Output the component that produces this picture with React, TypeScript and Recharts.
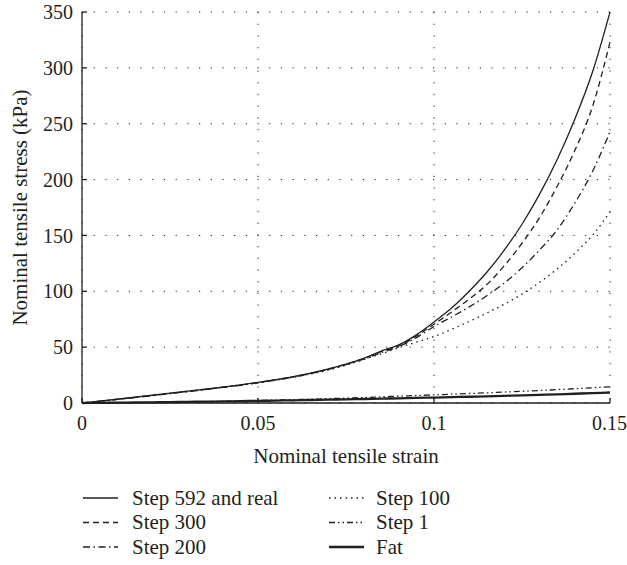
import React from 'react';
import { LineChart, Line, XAxis, YAxis, CartesianGrid } from 'recharts';

const strain = [0, 0.005, 0.01, 0.015, 0.02, 0.025, 0.03, 0.035, 0.04, 0.045, 0.05, 0.055, 0.06, 0.065, 0.07, 0.075, 0.08, 0.085, 0.09, 0.095, 0.1, 0.105, 0.11, 0.115, 0.12, 0.125, 0.13, 0.135, 0.14, 0.145, 0.15];

const step592 = [0, 1.7, 3.4, 5.2, 7.0, 8.8, 10.6, 12.4, 14.3, 16.3, 18.5, 20.9, 23.6, 26.8, 30.5, 34.8, 40, 46.5, 52, 61, 72.5, 85, 100, 117, 137, 160, 187, 218, 254, 296, 350];
const step300 = [0, 1.6, 3.3, 5.0, 6.8, 8.6, 10.4, 12.2, 14.1, 16.1, 18.3, 20.7, 23.4, 26.6, 30.3, 34.6, 39.8, 46, 51, 60, 70.5, 81.5, 93, 106, 123, 143, 166, 194, 226, 265, 323];
const step200 = [0, 1.6, 3.2, 4.9, 6.6, 8.4, 10.2, 12.0, 13.9, 15.9, 18.1, 20.5, 23.2, 26.4, 30.0, 34.3, 39.3, 45, 50.5, 58.5, 68.5, 77, 86, 96, 107.5, 121, 137, 155, 179, 207, 243];
const step100 = [0, 1.6, 3.2, 4.9, 6.6, 8.4, 10.2, 12.0, 13.9, 15.9, 18.0, 20.4, 23.0, 26.0, 29.5, 33.8, 39, 44, 49.5, 54.5, 59.5, 66, 73, 80.5, 88.5, 97.5, 108, 120, 134, 150, 171];
const step1 = [0, 0.1, 0.2, 0.35, 0.5, 0.7, 0.95, 1.2, 1.5, 1.8, 2.2, 2.6, 3.0, 3.4, 3.9, 4.4, 4.9, 5.5, 6.1, 6.7, 7.3, 7.9, 8.5, 9.1, 9.8, 10.5, 11.2, 12, 12.8, 13.6, 14.5];
const fat = [0, 0.15, 0.3, 0.45, 0.6, 0.8, 1.0, 1.2, 1.4, 1.65, 1.9, 2.15, 2.4, 2.7, 3.0, 3.3, 3.6, 3.9, 4.2, 4.55, 4.9, 5.25, 5.6, 6.0, 6.4, 6.85, 7.3, 7.8, 8.3, 8.85, 9.4];

const xTicks = [0, 0.05, 0.1, 0.15];
const yTicks = [0, 50, 100, 150, 200, 250, 300, 350];

const seriesNames = ['Step 592 and real', 'Step 300', 'Step 200', 'Step 100', 'Step 1', 'Fat'];

const data = strain.map((x, i) => ({
  x,
  s592: step592[i],
  s300: step300[i],
  s200: step200[i],
  s100: step100[i],
  s1: step1[i],
  fat: fat[i],
}));

const INK = '#231f20';
const FONT = "'Liberation Serif', 'DejaVu Serif', serif";

const styles = [
  { key: 's592', dash: undefined, width: 1.3 },
  { key: 's300', dash: '6 4', width: 1.3 },
  { key: 's200', dash: '7 3.5 1.5 3.5', width: 1.3 },
  { key: 's100', dash: '1.5 4', width: 1.3 },
  { key: 's1', dash: '6 3 1.5 3 1.5 3', width: 1.3 },
  { key: 'fat', dash: undefined, width: 2.3 },
];

const legendPos = [
  { col: 0, row: 0 },
  { col: 0, row: 1 },
  { col: 0, row: 2 },
  { col: 1, row: 0 },
  { col: 1, row: 1 },
  { col: 1, row: 2 },
];

const textStyle = { fontFamily: FONT };

export default function App() {
  return (
    <div style={{ position: 'absolute', left: 0, top: 0, width: 627, height: 565, background: '#fff', fontFamily: FONT }}>
      <LineChart width={627} height={565} data={data} margin={{ top: 12, right: 17, bottom: 100, left: 0 }} style={textStyle}>
        <CartesianGrid stroke={INK} strokeDasharray="1.2 10.5" strokeWidth={1} />
        <XAxis
          dataKey="x"
          type="number"
          domain={[0, 0.15]}
          ticks={xTicks}
          height={62}
          tickSize={-5}
          tickMargin={18}
          stroke={INK}
          strokeWidth={1.3}
          tick={{ fill: INK, fontSize: 20, style: textStyle }}
          label={{ value: 'Nominal tensile strain', position: 'insideBottom', offset: 2, fill: INK, fontSize: 21, style: textStyle }}
        />
        <XAxis
          xAxisId="top"
          orientation="top"
          dataKey="x"
          type="number"
          domain={[0, 0.15]}
          ticks={xTicks}
          height={0}
          tickSize={-5}
          tick={false}
          stroke={INK}
          strokeWidth={1.3}
        />
        <YAxis
          type="number"
          domain={[0, 350]}
          ticks={yTicks}
          width={82}
          tickSize={-5}
          tickMargin={14}
          stroke={INK}
          strokeWidth={1.3}
          tick={{ fill: INK, fontSize: 20, style: textStyle }}
          label={{ value: 'Nominal tensile stress (kPa)', angle: -90, position: 'insideLeft', offset: 20, fill: INK, fontSize: 21, style: { ...textStyle, textAnchor: 'middle' } }}
        />
        <YAxis
          yAxisId="right"
          orientation="right"
          type="number"
          domain={[0, 350]}
          ticks={yTicks}
          width={0}
          tickSize={-5}
          tick={false}
          stroke={INK}
          strokeWidth={1.3}
        />
        {styles.map((s) => (
          <Line
            key={s.key}
            dataKey={s.key}
            type="monotone"
            stroke={INK}
            strokeWidth={s.width}
            strokeDasharray={s.dash}
            dot={false}
            activeDot={false}
            isAnimationActive={false}
          />
        ))}
      </LineChart>
      <svg style={{ position: 'absolute', left: 0, top: 480 }} width={627} height={85}>
        {styles.map((s, i) => {
          const p = legendPos[i];
          const lx = p.col === 0 ? 83 : 329;
          const tx = p.col === 0 ? 132 : 376;
          const cy = 18 + p.row * 24.5;
          return (
            <g key={s.key}>
              <line x1={lx} x2={lx + 35} y1={cy} y2={cy} stroke={INK} strokeWidth={s.width} strokeDasharray={s.dash} />
              <text x={tx} y={cy + 6.5} fill={INK} fontSize={21} style={textStyle}>
                {seriesNames[i]}
              </text>
            </g>
          );
        })}
      </svg>
    </div>
  );
}
